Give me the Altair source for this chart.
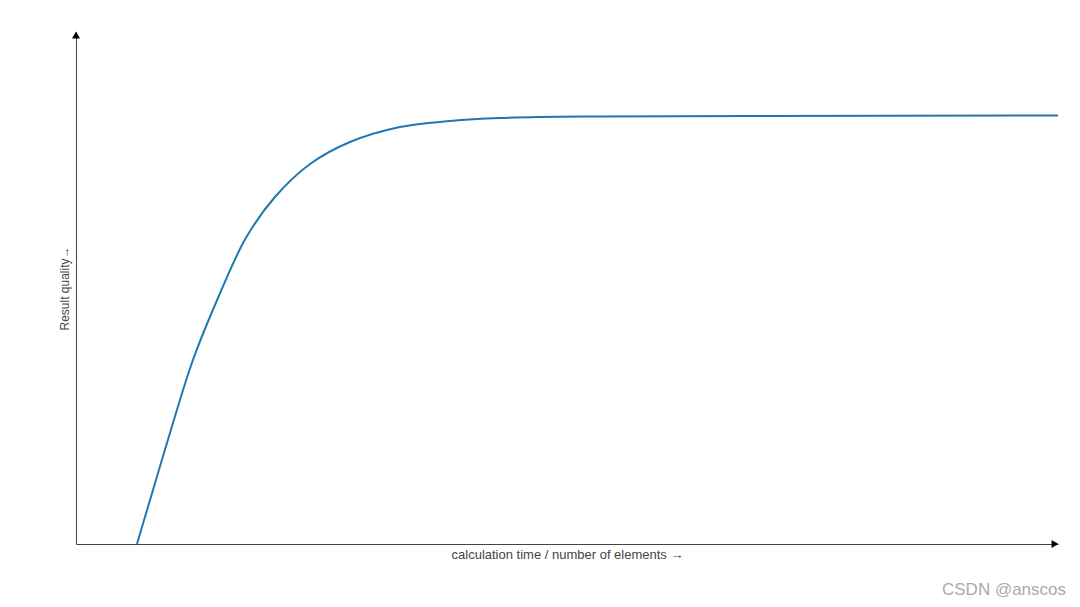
import altair as alt
import pandas as pd

# Curve (x: 0..100 across the axis, y: 0..100 up the axis)
x_vals = [6.21, 7.54, 9.57, 11.91, 14.46, 17.31, 20.26, 23.83, 27.90, 32.99,
          38.09, 43.18, 53.36, 68.64, 100.0]
y_vals = [0.0, 8.59, 21.68, 35.94, 48.05, 59.80, 67.77, 74.22, 78.52, 81.45,
          82.62, 83.20, 83.50, 83.59, 83.69]

x_title = "calculation time / number of elements \u2192"
y_title = "Result quality\u2192"
watermark = "CSDN @anscos"

curve = pd.DataFrame({"x": x_vals, "y": y_vals})
arrow_right = pd.DataFrame({"x": [100], "y": [0]})
arrow_up = pd.DataFrame({"x": [0], "y": [100]})

xs = alt.Scale(domain=[0, 100], nice=False, zero=False)
ys = alt.Scale(domain=[0, 100], nice=False, zero=False)

axis_common = dict(labels=False, ticks=False, grid=False, domainColor="#444",
                   domainWidth=1, titleFont="Liberation Sans",
                   titleFontWeight="normal", titleColor="#444")

line = alt.Chart(curve).mark_line(color="#1f77b4", strokeWidth=2,
                                  interpolate="catmull-rom").encode(
    x=alt.X("x:Q", scale=xs, axis=alt.Axis(title=x_title, titlePadding=4,
                                           titleFontSize=13, **axis_common)),
    y=alt.Y("y:Q", scale=ys, axis=alt.Axis(title=y_title, titlePadding=5,
                                           titleFontSize=12, **axis_common)),
)

ar = alt.Chart(arrow_right).mark_point(shape="triangle-right", filled=True,
                                       color="black", size=64, opacity=1,
                                       xOffset=-3).encode(
    x=alt.X("x:Q", scale=xs), y=alt.Y("y:Q", scale=ys))
au = alt.Chart(arrow_up).mark_point(shape="triangle-up", filled=True,
                                    color="black", size=64, opacity=1,
                                    yOffset=3).encode(
    x=alt.X("x:Q", scale=xs), y=alt.Y("y:Q", scale=ys))

chart = alt.layer(line, ar, au).properties(
    width=982, height=512,
    autosize=alt.AutoSizeParams(type="none"),
    padding={"left": 68, "top": 24, "right": 14, "bottom": 55},
    title=alt.TitleParams(watermark, orient="bottom", anchor="end",
                          font="Liberation Sans", fontSize=17,
                          fontWeight="normal", color="#aaa", dx=4, offset=21),
).configure_view(stroke=None).configure_axis(grid=False)

chart.save("out.html", embed_options={"renderer": "svg", "actions": False})
